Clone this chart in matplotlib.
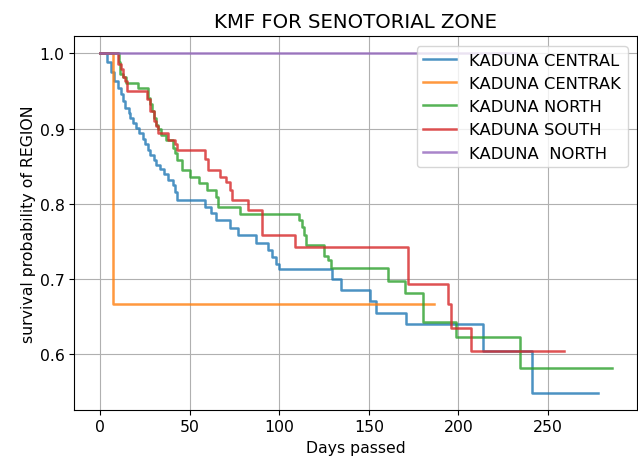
import matplotlib
matplotlib.use('Agg')
import matplotlib.pyplot as plt

# survival curves per senatorial zone (day, survival probability)
central_days = [0, 4, 6, 8, 10, 12, 13, 14, 16, 17, 18.5, 20, 22, 24, 25, 27, 28, 30, 31,
                33.5, 35.5, 38, 41, 42, 43, 58.5, 62, 65, 72.5, 77, 87, 94, 96, 98, 100,
                129.5, 134.5, 150.5, 154, 170.5, 214, 241, 278]
central_surv = [1.0, 0.988, 0.975, 0.963, 0.954, 0.946, 0.937, 0.928, 0.921, 0.914, 0.908,
                0.901, 0.894, 0.886, 0.879, 0.872, 0.865, 0.858, 0.852, 0.846, 0.840, 0.832,
                0.825, 0.815, 0.805, 0.796, 0.788, 0.778, 0.768, 0.758, 0.748, 0.738, 0.729,
                0.720, 0.713, 0.700, 0.686, 0.671, 0.655, 0.640, 0.604, 0.549, 0.549]

centrak_days = [0, 7.2, 186.4]
centrak_surv = [1.0, 0.667, 0.667]

north_days = [0, 10.5, 11, 13, 14.5, 21, 27, 28, 29, 30, 31, 32.5, 34, 37, 41, 42, 43, 46,
              50, 55, 60, 65, 66, 78, 111, 112.5, 114, 115, 125, 127, 129, 161, 170, 180,
              198.5, 234.5, 285.6]
north_surv = [1.0, 0.988, 0.972, 0.968, 0.960, 0.954, 0.941, 0.932, 0.923, 0.914, 0.905,
              0.899, 0.892, 0.885, 0.874, 0.867, 0.858, 0.845, 0.836, 0.827, 0.818, 0.809,
              0.796, 0.787, 0.778, 0.769, 0.758, 0.745, 0.731, 0.725, 0.714, 0.697, 0.682,
              0.643, 0.623, 0.581, 0.581]

south_days = [0, 10, 12, 13, 14, 15, 26.5, 28, 30, 31.5, 32.5, 38, 42, 43, 58.5, 60.5, 67,
              70.5, 72.5, 73.5, 82.5, 90.5, 109, 172, 194, 196, 207, 258.7]
south_surv = [1.0, 0.986, 0.979, 0.968, 0.963, 0.950, 0.939, 0.923, 0.910, 0.903, 0.894,
              0.885, 0.879, 0.872, 0.859, 0.845, 0.836, 0.829, 0.818, 0.805, 0.792, 0.758,
              0.743, 0.693, 0.667, 0.635, 0.604, 0.604]

north2_days = [0, 232]
north2_surv = [1.0, 1.0]

curves = [
    ('KADUNA CENTRAL', central_days, central_surv),
    ('KADUNA CENTRAK', centrak_days, centrak_surv),
    ('KADUNA NORTH', north_days, north_surv),
    ('KADUNA SOUTH', south_days, south_surv),
    ('KADUNA  NORTH', north2_days, north2_surv),
]

plt.rcParams['font.size'] = 11.3
fig, ax = plt.subplots(figsize=(6.38, 4.6), dpi=100)
fig.subplots_adjust(left=0.1166, right=0.999, top=0.9187, bottom=0.1076)

for label, days, surv in curves:
    ax.plot(days, surv, drawstyle='steps-post', linewidth=1.8, alpha=0.8, label=label)

ax.set_title('KMF FOR SENOTORIAL ZONE', fontsize=14.2, pad=7)
ax.set_xlabel('Days passed', labelpad=4)
ax.set_ylabel('survival probability of REGION', labelpad=3)
ax.grid(True)
ax.legend(loc='upper right', fontsize=11.8, borderaxespad=0.6)

plt.savefig('out.png', dpi=100)
